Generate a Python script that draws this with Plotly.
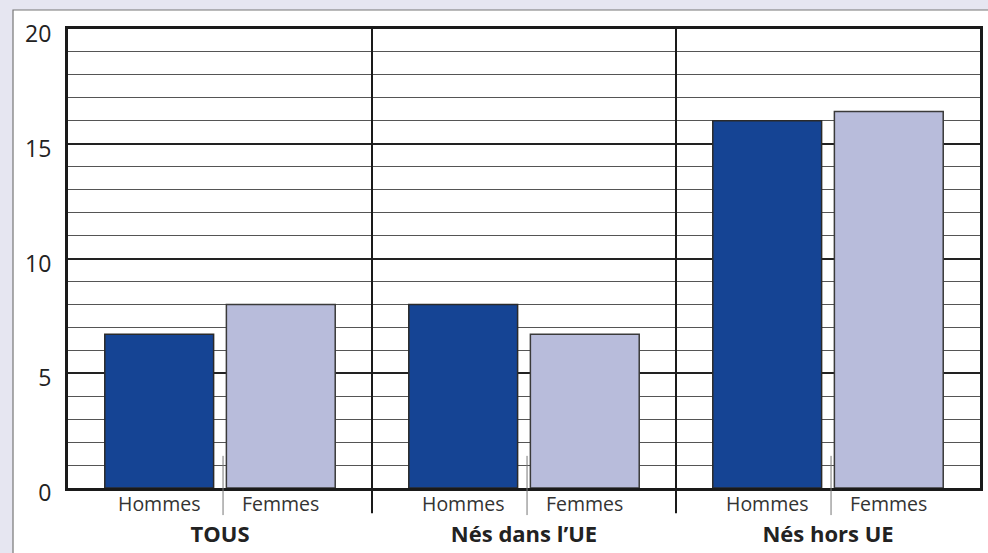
import plotly.graph_objects as go

groups = ["TOUS", "Nés dans l’UE", "Nés hors UE"]
series_names = ["Hommes", "Femmes"]
hommes = [6.7, 8.0, 16.0]
femmes = [8.0, 6.7, 16.4]
y_ticks = [0, 5, 10, 15, 20]

dark_blue = "#154494"
light_lav = "#b8bcdb"
font_family = "Open Sans, Noto Sans, sans-serif"

fig = go.Figure()
fig.add_trace(go.Bar(x=groups, y=hommes, name=series_names[0], marker=dict(color=dark_blue, line=dict(color="#2a2a2a", width=1.5))))
fig.add_trace(go.Bar(x=groups, y=femmes, name=series_names[1], marker=dict(color=light_lav, line=dict(color="#3a3a3a", width=1.5))))

shapes = []
# white frame panel
shapes.append(dict(type="rect", xref="paper", yref="paper", x0=-0.0603, x1=1.03, y0=-0.2, y1=1.0414,
                   line=dict(color="#777777", width=1.2), fillcolor="white", layer="below"))
# group separators
for i in range(len(groups) - 1):
    shapes.append(dict(type="line", xref="x", yref="paper", x0=i + 0.5, x1=i + 0.5, y0=-0.055, y1=1,
                       line=dict(color="#1a1a1a", width=2)))
# small separators between Hommes / Femmes
for i in range(len(groups)):
    shapes.append(dict(type="line", xref="x", yref="paper", x0=i + 0.01, x1=i + 0.01, y0=-0.059, y1=0.07,
                       line=dict(color="#777777", width=1)))

annotations = []
for i in range(len(groups)):
    for j, nm in enumerate(series_names):
        annotations.append(dict(x=i + (-0.2 if j == 0 else 0.2), y=-0.033, xref="x", yref="paper",
                                text=nm, showarrow=False, yanchor="middle",
                                font=dict(family=font_family, size=19.5, color="#333333")))

fig.update_layout(
    width=988, height=553,
    margin=dict(l=68, r=8, t=29, b=65),
    paper_bgcolor="#e6e6f1",
    plot_bgcolor="white",
    barmode="group", bargap=0.2, bargroupgap=0.105,
    showlegend=False,
    shapes=shapes, annotations=annotations,
    font=dict(family=font_family, color="#222222"),
)
fig.update_xaxes(showgrid=False, showline=True, linecolor="#1a1a1a", linewidth=3, mirror=True,
                 ticks="", ticklabelstandoff=25, automargin=False,
                 tickfont=dict(family=font_family, size=22, color="#222222", weight="bold"))
fig.update_yaxes(range=[0, 20], tickvals=y_ticks, showgrid=True, gridcolor="#222222", gridwidth=2,
                 minor=dict(dtick=1, showgrid=True, gridcolor="#555555", gridwidth=1),
                 showline=True, linecolor="#1a1a1a", linewidth=3, mirror=True,
                 zeroline=False, ticks="", ticklabelstandoff=9, ticklabelshift=5, automargin=False,
                 tickfont=dict(family=font_family, size=23, color="#222222"))

fig.write_html("out.html", config={"displayModeBar": False},
               post_script="document.body.style.margin='0';document.body.style.overflow='hidden';")
